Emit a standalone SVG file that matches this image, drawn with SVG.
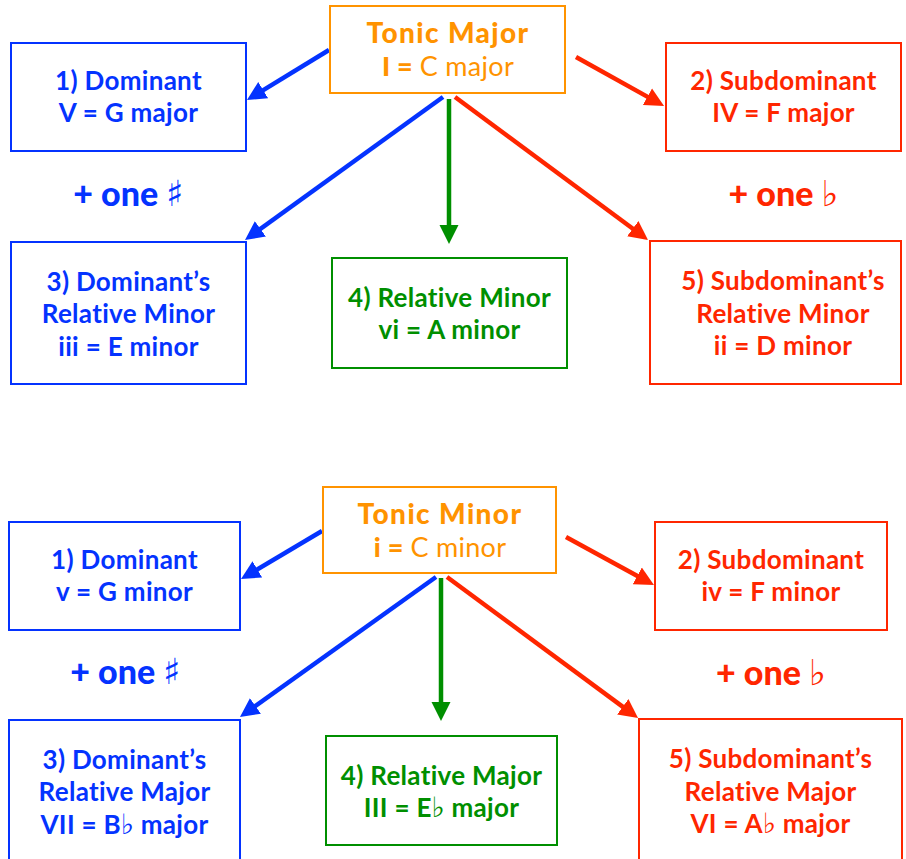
<svg xmlns="http://www.w3.org/2000/svg" width="906" height="859" viewBox="0 0 906 859">
<defs>
<style>
text{font-family:"Lato","Liberation Sans",sans-serif;font-weight:700;font-size:26px;letter-spacing:0.3px;text-anchor:middle}
.lt{font-weight:400}
.ttl{font-size:28px;font-weight:900;letter-spacing:1.4px}
.sym{font-family:"DejaVu Sans",sans-serif;font-weight:400;letter-spacing:0;font-size:28px}
.big{font-size:34px;font-weight:900;letter-spacing:0}
.big .sym{font-size:36px}
.box{fill:#fff;stroke-width:2}
.b{fill:#0433FF}.r{fill:#FF2600}.g{fill:#008F00}.o{fill:#FF9300}
.bb{stroke:#0433FF}.rb{stroke:#FF2600}.gb{stroke:#008F00}.ob{stroke:#FF9300}
.cn{fill:none;stroke-width:4.5}
</style>
<marker id="mb" markerUnits="userSpaceOnUse" markerWidth="20" markerHeight="20" viewBox="0 0 20 20" refX="9" refY="10" orient="auto"><path d="M0,0.5 L19,10 L0,19.5 z" fill="#0433FF"/></marker>
<marker id="mr" markerUnits="userSpaceOnUse" markerWidth="20" markerHeight="20" viewBox="0 0 20 20" refX="9" refY="10" orient="auto"><path d="M0,0.5 L19,10 L0,19.5 z" fill="#FF2600"/></marker>
<marker id="mg" markerUnits="userSpaceOnUse" markerWidth="20" markerHeight="20" viewBox="0 0 20 20" refX="9" refY="10" orient="auto"><path d="M0,0.5 L19,10 L0,19.5 z" fill="#008F00"/></marker>
</defs>
<rect width="906" height="859" fill="#fff"/>

<g id="connectors">
<line class="cn bb" x1="329" y1="50" x2="255.5" y2="94.8" marker-end="url(#mb)"/>
<line class="cn bb" x1="443" y1="97" x2="253.1" y2="234.1" marker-end="url(#mb)"/>
<line class="cn gb" x1="449" y1="99" x2="449" y2="234" marker-end="url(#mg)"/>
<line class="cn rb" x1="455" y1="97" x2="640" y2="234" marker-end="url(#mr)"/>
<line class="cn rb" x1="576" y1="57" x2="655.3" y2="101.1" marker-end="url(#mr)"/>
<line class="cn bb" x1="322" y1="531" x2="249.6" y2="573.9" marker-end="url(#mb)"/>
<line class="cn bb" x1="436" y1="577" x2="248.1" y2="711.2" marker-end="url(#mb)"/>
<line class="cn gb" x1="441" y1="578" x2="441" y2="711" marker-end="url(#mg)"/>
<line class="cn rb" x1="447" y1="577" x2="630" y2="712.1" marker-end="url(#mr)"/>
<line class="cn rb" x1="566" y1="537" x2="645.2" y2="580.2" marker-end="url(#mr)"/>
</g>

<g id="tonic-major">
<rect class="box ob" x="330" y="6" width="235" height="87"/>
<text class="o ttl" x="448" y="43">Tonic Major</text>
<text class="o" x="448" y="76" style="font-size:27px"><tspan style="font-weight:900">I = </tspan><tspan class="lt">C major</tspan></text>
</g>
<g id="dominant-major">
<rect class="box bb" x="11" y="43" width="235" height="108"/>
<text class="b" x="128.5" y="90">1) Dominant</text>
<text class="b" x="128.5" y="122">V = G major</text>
</g>
<g id="subdominant-major">
<rect class="box rb" x="666" y="43" width="235" height="108"/>
<text class="r" x="783.5" y="90">2) Subdominant</text>
<text class="r" x="783.5" y="122">IV = F major</text>
</g>
<text class="b big" x="128.5" y="206">+ one <tspan class="sym">♯</tspan></text>
<text class="r big" x="783.5" y="206">+ one <tspan class="sym">♭</tspan></text>
<g id="dominant-relative-minor">
<rect class="box bb" x="11" y="242" width="235" height="142"/>
<text class="b" x="128.5" y="291">3) Dominant’s</text>
<text class="b" x="128.5" y="323">Relative Minor</text>
<text class="b" x="128.5" y="356">iii = E minor</text>
</g>
<g id="relative-minor">
<rect class="box gb" x="332" y="258" width="235" height="110"/>
<text class="g" x="449.5" y="307">4) Relative Minor</text>
<text class="g" x="449.5" y="339">vi = A minor</text>
</g>
<g id="subdominant-relative-minor">
<rect class="box rb" x="650" y="241" width="251" height="143"/>
<text class="r" x="783" y="290">5) Subdominant’s</text>
<text class="r" x="783" y="323">Relative Minor</text>
<text class="r" x="783" y="355">ii = D minor</text>
</g>

<g id="tonic-minor">
<rect class="box ob" x="323" y="487" width="233" height="86"/>
<text class="o ttl" x="440" y="524">Tonic Minor</text>
<text class="o" x="440" y="557" style="font-size:27px"><tspan style="font-weight:900">i = </tspan><tspan class="lt">C minor</tspan></text>
</g>
<g id="dominant-minor">
<rect class="box bb" x="9" y="522" width="231" height="108"/>
<text class="b" x="124.5" y="569">1) Dominant</text>
<text class="b" x="124.5" y="601">v = G minor</text>
</g>
<g id="subdominant-minor">
<rect class="box rb" x="655" y="522" width="232" height="108"/>
<text class="r" x="771" y="569">2) Subdominant</text>
<text class="r" x="771" y="601">iv = F minor</text>
</g>
<text class="b big" x="125.5" y="684">+ one <tspan class="sym">♯</tspan></text>
<text class="r big" x="771" y="685">+ one <tspan class="sym">♭</tspan></text>
<g id="dominant-relative-major">
<rect class="box bb" x="9" y="720" width="231" height="150"/>
<text class="b" x="124.5" y="769">3) Dominant’s</text>
<text class="b" x="124.5" y="801">Relative Major</text>
<text class="b" x="124.5" y="834">VII = B<tspan class="sym">♭</tspan> major</text>
</g>
<g id="relative-major">
<rect class="box gb" x="326" y="736" width="231" height="109"/>
<text class="g" x="441.5" y="785">4) Relative Major</text>
<text class="g" x="441.5" y="817">III = E<tspan class="sym">♭</tspan> major</text>
</g>
<g id="subdominant-relative-major">
<rect class="box rb" x="639" y="719" width="263" height="150"/>
<text class="r" x="770.5" y="768">5) Subdominant’s</text>
<text class="r" x="770.5" y="801">Relative Major</text>
<text class="r" x="770.5" y="833">VI = A<tspan class="sym">♭</tspan> major</text>
</g>
</svg>
